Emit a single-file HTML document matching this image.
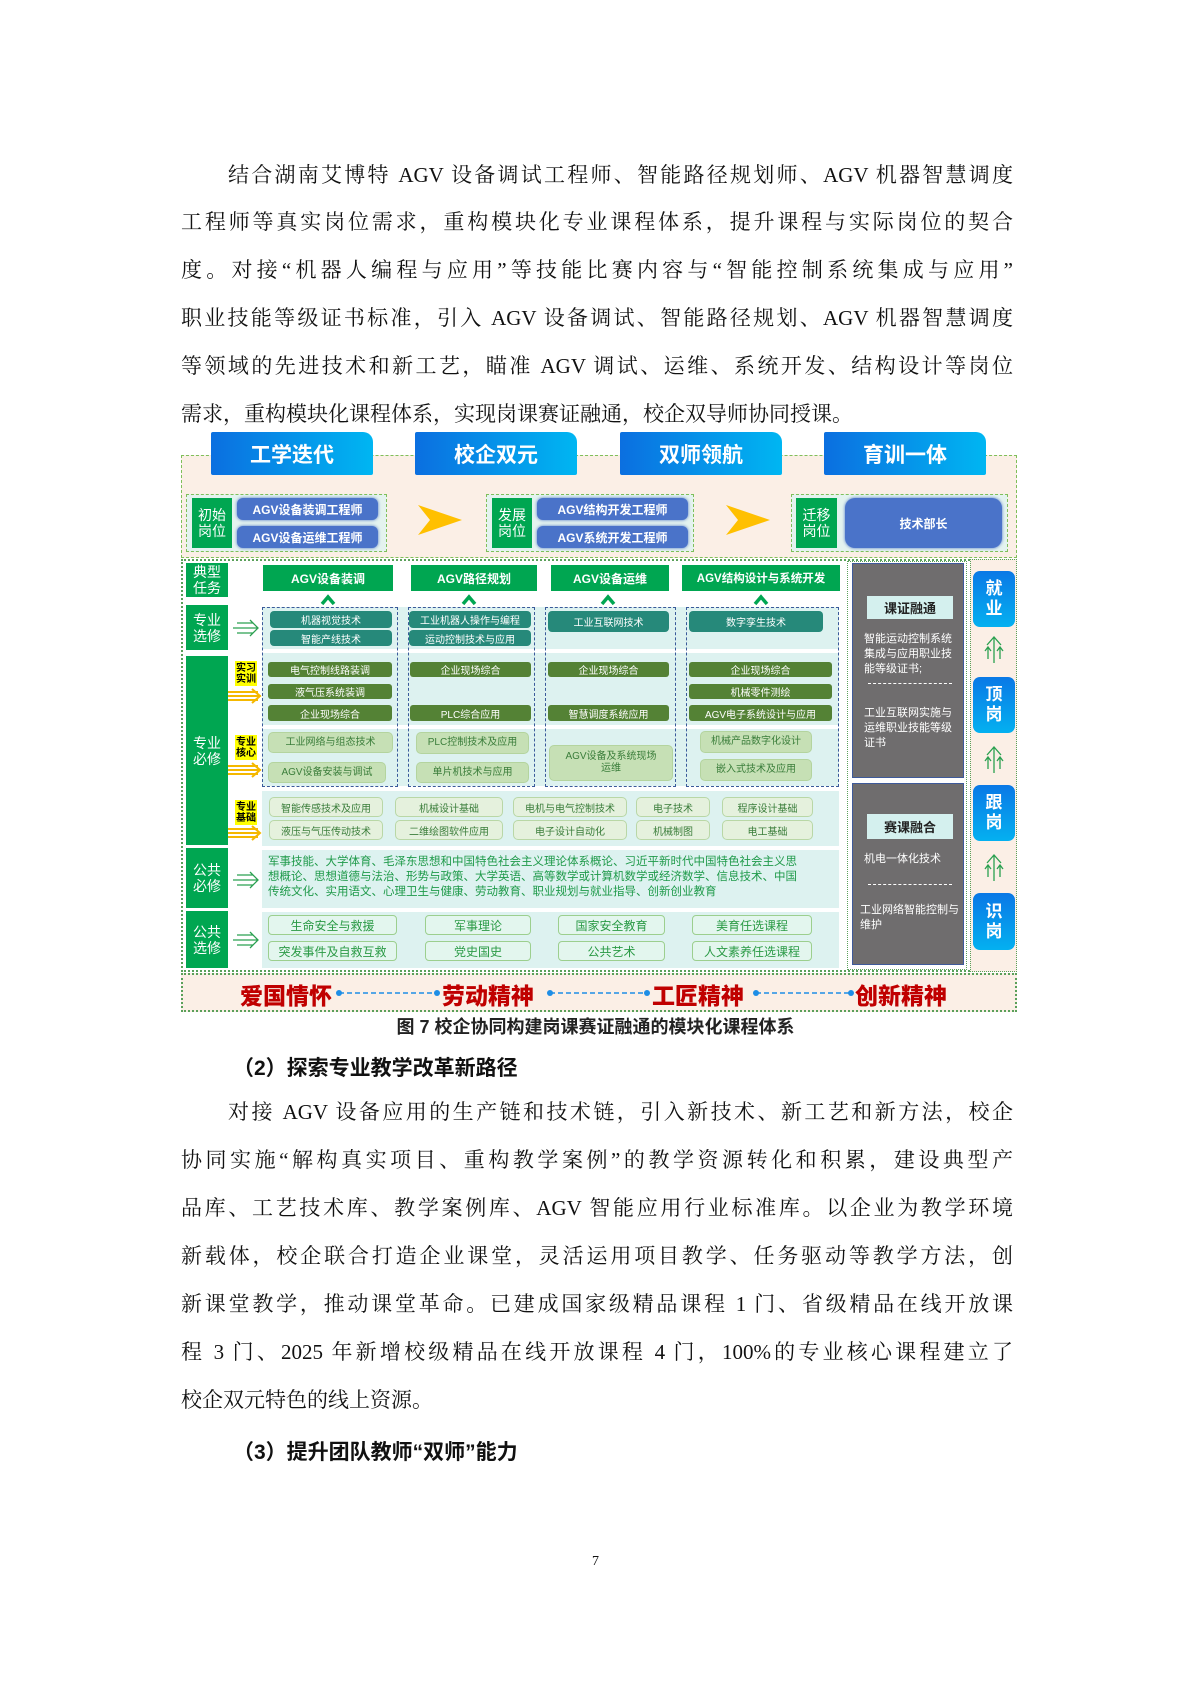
<!DOCTYPE html>
<html><head><meta charset="utf-8">
<style>
body{margin:0;background:#fff;}
#pg{position:relative;width:1191px;height:1684px;overflow:hidden;font-family:"Liberation Serif","Noto Serif CJK SC",serif;color:#111;}
.ln{position:absolute;left:181px;width:832px;font-size:21px;line-height:28px;text-align:justify;text-align-last:justify;white-space:nowrap;}
.a{position:absolute;box-sizing:border-box;}
.s{font-family:"Liberation Sans","Noto Sans CJK SC",sans-serif;}
.c{display:flex;align-items:center;justify-content:center;text-align:center;}
.hd{background:linear-gradient(90deg,#0b6fe0,#00b6f2);color:#fff;font-size:21px;font-weight:bold;border-radius:2px 10px 2px 2px;}
.gl{background:#00a651;color:#fff;font-size:14px;line-height:16px;}
.bp{background:#4a73c9;color:#fff;font-size:12px;font-weight:bold;border-radius:6px;box-shadow:0 0 3px #4a73c9;}
.th{background:#00a651;color:#fff;font-size:12px;font-weight:bold;white-space:nowrap;}
.tp{background:#26897a;color:#fff;font-size:10px;border-radius:4px;}
.op{background:#548235;color:#fff;font-size:10px;border-radius:3px;}
.lp{background:#c6e0b5;color:#3a7d3a;font-size:10px;border-radius:5px;border:1px solid #b4d49e;line-height:12px;}
.bb{background:#e5f1dd;color:#3a7d3a;font-size:10px;border-radius:5px;border:1px solid #b9d7a6;}
.ep{background:#e3f6ee;color:#2a9a45;font-size:12px;border-radius:4px;border:1.5px solid #9ccf8e;}
.yl{background:#ffff00;color:#000;font-size:10px;font-weight:bold;line-height:11px;}
.rt{color:#c00000;font-size:23px;font-weight:900;}
.bl{background:linear-gradient(180deg,#0a78e6,#04b0f0);color:#fff;font-size:17px;font-weight:bold;line-height:20px;border-radius:7px;}
</style></head><body><div id="pg">
<div class="ln" style="top:161px;left:228px;width:785px">结合湖南艾博特 AGV 设备调试工程师、智能路径规划师、AGV 机器智慧调度</div>
<div class="ln" style="top:208px">工程师等真实岗位需求，重构模块化专业课程体系，提升课程与实际岗位的契合</div>
<div class="ln" style="top:256px">度。对接“机器人编程与应用”等技能比赛内容与“智能控制系统集成与应用”</div>
<div class="ln" style="top:304px">职业技能等级证书标准，引入 AGV 设备调试、智能路径规划、AGV 机器智慧调度</div>
<div class="ln" style="top:352px">等领域的先进技术和新工艺，瞄准 AGV 调试、运维、系统开发、结构设计等岗位</div>
<div class="ln" style="top:400px;text-align-last:left">需求，重构模块化课程体系，实现岗课赛证融通，校企双导师协同授课。</div>

<div class="s">
<div class="a" style="left:181px;top:455px;width:836px;height:103px;background:#fbefe6;border:1px dashed #7fbf5a"></div>
<div class="a hd c" style="left:211px;top:432px;width:162px;height:43px">工学迭代</div>
<div class="a hd c" style="left:415px;top:432px;width:162px;height:43px">校企双元</div>
<div class="a hd c" style="left:620px;top:432px;width:162px;height:43px">双师领航</div>
<div class="a hd c" style="left:824px;top:432px;width:162px;height:43px">育训一体</div>

<div class="a" style="left:186px;top:494px;width:201px;height:58px;border:1px dashed #7fbf5a;background:#e4f3ef"></div>
<div class="a gl c" style="left:192px;top:498px;width:40px;height:50px">初始<br>岗位</div>
<div class="a bp c" style="left:237px;top:498px;width:141px;height:22px">AGV设备装调工程师</div>
<div class="a bp c" style="left:237px;top:526px;width:141px;height:22px">AGV设备运维工程师</div>
<svg class="a" style="left:418px;top:505px" width="46" height="30"><polygon points="0,0 44,15 0,30 12,15" fill="#ffc000"/></svg>
<div class="a" style="left:486px;top:494px;width:208px;height:58px;border:1px dashed #7fbf5a;background:#e4f3ef"></div>
<div class="a gl c" style="left:492px;top:498px;width:40px;height:50px">发展<br>岗位</div>
<div class="a bp c" style="left:537px;top:498px;width:151px;height:22px">AGV结构开发工程师</div>
<div class="a bp c" style="left:537px;top:526px;width:151px;height:22px">AGV系统开发工程师</div>
<svg class="a" style="left:726px;top:505px" width="46" height="30"><polygon points="0,0 44,15 0,30 12,15" fill="#ffc000"/></svg>
<div class="a" style="left:791px;top:494px;width:217px;height:58px;border:1px dashed #7fbf5a;background:#e4f3ef"></div>
<div class="a gl c" style="left:796px;top:498px;width:41px;height:50px">迁移<br>岗位</div>
<div class="a bp c" style="left:845px;top:498px;width:157px;height:50px;border-radius:10px">技术部长</div>

<div class="a" style="left:181px;top:559px;width:836px;height:413px;border:2px dotted #5aa05a"></div>
<div class="a gl c" style="left:186px;top:563px;width:42px;height:34px">典型<br>任务</div>
<div class="a gl c" style="left:186px;top:605px;width:42px;height:45px">专业<br>选修</div>
<div class="a gl c" style="left:186px;top:656px;width:42px;height:189px">专业<br>必修</div>
<div class="a gl c" style="left:186px;top:848px;width:42px;height:60px">公共<br>必修</div>
<div class="a gl c" style="left:186px;top:911px;width:42px;height:57px">公共<br>选修</div>

<div class="a th c" style="left:263px;top:565px;width:130px;height:26px">AGV设备装调</div>
<div class="a th c" style="left:411px;top:565px;width:126px;height:26px">AGV路径规划</div>
<div class="a th c" style="left:551px;top:565px;width:118px;height:26px">AGV设备运维</div>
<div class="a th c" style="left:682px;top:565px;width:158px;height:26px;font-size:11.5px">AGV结构设计与系统开发</div>
<svg class="a" style="left:320px;top:594px" width="16" height="12"><polyline points="2,10 8,3 14,10" stroke="#00a651" stroke-width="3.5" fill="none"/></svg>
<svg class="a" style="left:461px;top:594px" width="16" height="12"><polyline points="2,10 8,3 14,10" stroke="#00a651" stroke-width="3.5" fill="none"/></svg>
<svg class="a" style="left:600px;top:594px" width="16" height="12"><polyline points="2,10 8,3 14,10" stroke="#00a651" stroke-width="3.5" fill="none"/></svg>
<svg class="a" style="left:753px;top:594px" width="16" height="12"><polyline points="2,10 8,3 14,10" stroke="#00a651" stroke-width="3.5" fill="none"/></svg>

<div class="a" style="left:262px;top:607px;width:577px;height:42px;background:#ddf2f0"></div>
<div class="a" style="left:262px;top:653px;width:577px;height:72px;background:#ddf2f0"></div>
<div class="a" style="left:262px;top:729px;width:577px;height:57px;background:#ddf2f0"></div>
<div class="a" style="left:262px;top:791px;width:577px;height:55px;background:#ddf2f0"></div>
<div class="a" style="left:262px;top:850px;width:577px;height:58px;background:#ddf2f0"></div>
<div class="a" style="left:262px;top:912px;width:577px;height:56px;background:#ddf2f0"></div>
<div class="a" style="left:262px;top:607px;width:136px;height:180px;border:1px dashed #3a5a9a"></div>
<div class="a" style="left:408px;top:607px;width:127px;height:180px;border:1px dashed #3a5a9a"></div>
<div class="a" style="left:545px;top:607px;width:131px;height:180px;border:1px dashed #3a5a9a"></div>
<div class="a" style="left:686px;top:607px;width:153px;height:180px;border:1px dashed #3a5a9a"></div>

<div class="a tp c" style="left:270px;top:611px;width:122px;height:17px">机器视觉技术</div>
<div class="a tp c" style="left:270px;top:630px;width:122px;height:16px">智能产线技术</div>
<div class="a tp c" style="left:409px;top:611px;width:122px;height:17px">工业机器人操作与编程</div>
<div class="a tp c" style="left:409px;top:630px;width:122px;height:16px">运动控制技术与应用</div>
<div class="a tp c" style="left:548px;top:611px;width:121px;height:21px">工业互联网技术</div>
<div class="a tp c" style="left:689px;top:611px;width:134px;height:21px">数字孪生技术</div>
<div class="a op c" style="left:268px;top:662px;width:124px;height:15px">电气控制线路装调</div>
<div class="a op c" style="left:268px;top:684px;width:124px;height:15px">液气压系统装调</div>
<div class="a op c" style="left:268px;top:705px;width:124px;height:16px">企业现场综合</div>
<div class="a op c" style="left:410px;top:662px;width:121px;height:15px">企业现场综合</div>
<div class="a op c" style="left:410px;top:705px;width:121px;height:16px">PLC综合应用</div>
<div class="a op c" style="left:548px;top:662px;width:121px;height:15px">企业现场综合</div>
<div class="a op c" style="left:548px;top:705px;width:121px;height:16px">智慧调度系统应用</div>
<div class="a op c" style="left:689px;top:662px;width:143px;height:15px">企业现场综合</div>
<div class="a op c" style="left:689px;top:684px;width:143px;height:15px">机械零件测绘</div>
<div class="a op c" style="left:689px;top:705px;width:143px;height:16px">AGV电子系统设计与应用</div>
<div class="a lp c" style="left:268px;top:732px;width:125px;height:21px">工业网络与组态技术</div>
<div class="a lp c" style="left:268px;top:762px;width:118px;height:21px">AGV设备安装与调试</div>
<div class="a lp c" style="left:416px;top:732px;width:113px;height:22px">PLC控制技术及应用</div>
<div class="a lp c" style="left:416px;top:762px;width:113px;height:21px">单片机技术与应用</div>
<div class="a lp c" style="left:549px;top:745px;width:124px;height:36px">AGV设备及系统现场<br>运维</div>
<div class="a lp c" style="left:700px;top:731px;width:112px;height:22px">机械产品数字化设计</div>
<div class="a lp c" style="left:700px;top:759px;width:112px;height:22px">嵌入式技术及应用</div>
<div class="a bb c" style="left:269px;top:797px;width:114px;height:20px">智能传感技术及应用</div>
<div class="a bb c" style="left:269px;top:820px;width:114px;height:20px">液压与气压传动技术</div>
<div class="a bb c" style="left:395px;top:797px;width:108px;height:20px">机械设计基础</div>
<div class="a bb c" style="left:395px;top:820px;width:108px;height:20px">二维绘图软件应用</div>
<div class="a bb c" style="left:513px;top:797px;width:114px;height:20px">电机与电气控制技术</div>
<div class="a bb c" style="left:513px;top:820px;width:114px;height:20px">电子设计自动化</div>
<div class="a bb c" style="left:636px;top:797px;width:74px;height:20px">电子技术</div>
<div class="a bb c" style="left:636px;top:820px;width:74px;height:20px">机械制图</div>
<div class="a bb c" style="left:722px;top:797px;width:91px;height:20px">程序设计基础</div>
<div class="a bb c" style="left:722px;top:820px;width:91px;height:20px">电工基础</div>
<div class="a" style="left:268px;top:855px;width:572px;font-size:11.5px;line-height:15px;color:#1f9a4a;white-space:nowrap">军事技能、大学体育、毛泽东思想和中国特色社会主义理论体系概论、习近平新时代中国特色社会主义思<br>想概论、思想道德与法治、形势与政策、大学英语、高等数学或计算机数学或经济数学、信息技术、中国<br>传统文化、实用语文、心理卫生与健康、劳动教育、职业规划与就业指导、创新创业教育</div>
<div class="a ep c" style="left:268px;top:915px;width:129px;height:20px">生命安全与救援</div>
<div class="a ep c" style="left:268px;top:941px;width:129px;height:20px">突发事件及自救互救</div>
<div class="a ep c" style="left:425px;top:915px;width:106px;height:20px">军事理论</div>
<div class="a ep c" style="left:425px;top:941px;width:106px;height:20px">党史国史</div>
<div class="a ep c" style="left:558px;top:915px;width:107px;height:20px">国家安全教育</div>
<div class="a ep c" style="left:558px;top:941px;width:107px;height:20px">公共艺术</div>
<div class="a ep c" style="left:692px;top:915px;width:120px;height:20px">美育任选课程</div>
<div class="a ep c" style="left:692px;top:941px;width:120px;height:20px">人文素养任选课程</div>

<div class="a yl c" style="left:235px;top:661px;width:22px;height:25px">实习<br>实训</div>
<div class="a yl c" style="left:235px;top:735px;width:22px;height:25px">专业<br>核心</div>
<div class="a yl c" style="left:235px;top:800px;width:22px;height:25px">专业<br>基础</div>
<svg class="a" style="left:228px;top:688px" width="34" height="16"><g stroke="#f5b800" stroke-width="2" fill="none"><path d="M0 4H30M0 8H32M0 12H30M24 1L32 8L24 15"/></g></svg>
<svg class="a" style="left:228px;top:762px" width="34" height="16"><g stroke="#f5b800" stroke-width="2" fill="none"><path d="M0 4H30M0 8H32M0 12H30M24 1L32 8L24 15"/></g></svg>
<svg class="a" style="left:228px;top:825px" width="34" height="16"><g stroke="#f5b800" stroke-width="2" fill="none"><path d="M0 4H30M0 8H32M0 12H30M24 1L32 8L24 15"/></g></svg>
<svg class="a" style="left:233px;top:618px" width="28" height="20"><g stroke="#2aa050" stroke-width="1.3" fill="none"><path d="M4 5H20M0 10H24M4 15H20M17 2L25 10L17 18"/></g></svg>
<svg class="a" style="left:233px;top:870px" width="28" height="20"><g stroke="#2aa050" stroke-width="1.3" fill="none"><path d="M4 5H20M0 10H24M4 15H20M17 2L25 10L17 18"/></g></svg>
<svg class="a" style="left:233px;top:930px" width="28" height="20"><g stroke="#2aa050" stroke-width="1.3" fill="none"><path d="M4 5H20M0 10H24M4 15H20M17 2L25 10L17 18"/></g></svg>

<div class="a" style="left:847px;top:561px;width:120px;height:409px;border:1px dotted #5aa05a"></div>
<div class="a" style="left:852px;top:563px;width:112px;height:215px;background:#6f6d6e;border:1.5px solid #3e5a9a"></div>
<div class="a c" style="left:867px;top:596px;width:86px;height:23px;background:#d4f0ee;font-size:13px;font-weight:bold;color:#222">课证融通</div>
<div class="a" style="left:864px;top:632px;width:96px;font-size:11px;line-height:15px;color:#fff">智能运动控制系统集成与应用职业技能等级证书;</div>
<div class="a" style="left:868px;top:683px;width:84px;border-top:1px dashed #fff"></div>
<div class="a" style="left:864px;top:706px;width:96px;font-size:11px;line-height:15px;color:#fff">工业互联网实施与运维职业技能等级证书</div>
<div class="a" style="left:852px;top:783px;width:112px;height:182px;background:#6f6d6e;border:1.5px solid #3e5a9a"></div>
<div class="a c" style="left:867px;top:814px;width:86px;height:25px;background:#d4f0ee;font-size:13px;font-weight:bold;color:#222">赛课融合</div>
<div class="a" style="left:864px;top:852px;width:96px;font-size:11px;line-height:15px;color:#fff">机电一体化技术</div>
<div class="a" style="left:868px;top:884px;width:84px;border-top:1px dashed #fff"></div>
<div class="a" style="left:860px;top:903px;width:100px;font-size:11px;line-height:15px;color:#fff">工业网络智能控制与维护</div>

<div class="a" style="left:970px;top:559px;width:47px;height:413px;background:#fbefe6;border:1px dotted #5aa05a"></div>
<div class="a bl c" style="left:973px;top:571px;width:42px;height:56px">就<br>业</div>
<div class="a bl c" style="left:973px;top:677px;width:42px;height:56px">顶<br>岗</div>
<div class="a bl c" style="left:973px;top:785px;width:42px;height:56px">跟<br>岗</div>
<div class="a bl c" style="left:973px;top:893px;width:42px;height:57px">识<br>岗</div>
<svg class="a" style="left:982px;top:635px" width="24" height="30"><g stroke="#2aa050" stroke-width="1.3" fill="none"><path d="M12 2V28M5 10L12 2L19 10M6 12V24M18 12V24M3 16L6 12L9 16M15 16L18 12L21 16"/></g></svg>
<svg class="a" style="left:982px;top:745px" width="24" height="30"><g stroke="#2aa050" stroke-width="1.3" fill="none"><path d="M12 2V28M5 10L12 2L19 10M6 12V24M18 12V24M3 16L6 12L9 16M15 16L18 12L21 16"/></g></svg>
<svg class="a" style="left:982px;top:853px" width="24" height="30"><g stroke="#2aa050" stroke-width="1.3" fill="none"><path d="M12 2V28M5 10L12 2L19 10M6 12V24M18 12V24M3 16L6 12L9 16M15 16L18 12L21 16"/></g></svg>

<div class="a" style="left:181px;top:973px;width:836px;height:39px;background:#fbefe6;border:2px dotted #5aa05a"></div>
<svg class="a" style="left:181px;top:973px" width="836" height="39"><g stroke="#1e8ee6" stroke-width="1.5" stroke-dasharray="5,3"><line x1="158" y1="20" x2="256" y2="20"/><line x1="369" y1="20" x2="466" y2="20"/><line x1="575" y1="20" x2="670" y2="20"/></g><g fill="#1e8ee6"><circle cx="158" cy="20" r="3"/><circle cx="256" cy="20" r="3"/><circle cx="369" cy="20" r="3"/><circle cx="466" cy="20" r="3"/><circle cx="575" cy="20" r="3"/><circle cx="670" cy="20" r="3"/></g></svg>
<div class="a rt" style="left:240px;top:977px">爱国情怀</div>
<div class="a rt" style="left:442px;top:977px">劳动精神</div>
<div class="a rt" style="left:652px;top:977px">工匠精神</div>
<div class="a rt" style="left:855px;top:977px">创新精神</div>
</div>

<div class="a s" style="left:0;width:1191px;top:1013px;text-align:center;font-size:18px;font-weight:bold;color:#222">图 7 校企协同构建岗课赛证融通的模块化课程体系</div>
<div class="a s" style="left:233px;top:1052px;font-size:21px;font-weight:bold">（2）探索专业教学改革新路径</div>
<div class="ln" style="top:1098px;left:228px;width:785px">对接 AGV 设备应用的生产链和技术链，引入新技术、新工艺和新方法，校企</div>
<div class="ln" style="top:1146px">协同实施“解构真实项目、重构教学案例”的教学资源转化和积累，建设典型产</div>
<div class="ln" style="top:1194px">品库、工艺技术库、教学案例库、AGV 智能应用行业标准库。以企业为教学环境</div>
<div class="ln" style="top:1242px">新载体，校企联合打造企业课堂，灵活运用项目教学、任务驱动等教学方法，创</div>
<div class="ln" style="top:1290px">新课堂教学，推动课堂革命。已建成国家级精品课程 1 门、省级精品在线开放课</div>
<div class="ln" style="top:1338px">程 3 门、2025 年新增校级精品在线开放课程 4 门，100%的专业核心课程建立了</div>
<div class="ln" style="top:1386px;text-align-last:left">校企双元特色的线上资源。</div>
<div class="a s" style="left:233px;top:1436px;font-size:21px;font-weight:bold">（3）提升团队教师“双师”能力</div>
<div class="a" style="left:0;width:1191px;top:1554px;text-align:center;font-size:14px">7</div>
</div></body></html>
